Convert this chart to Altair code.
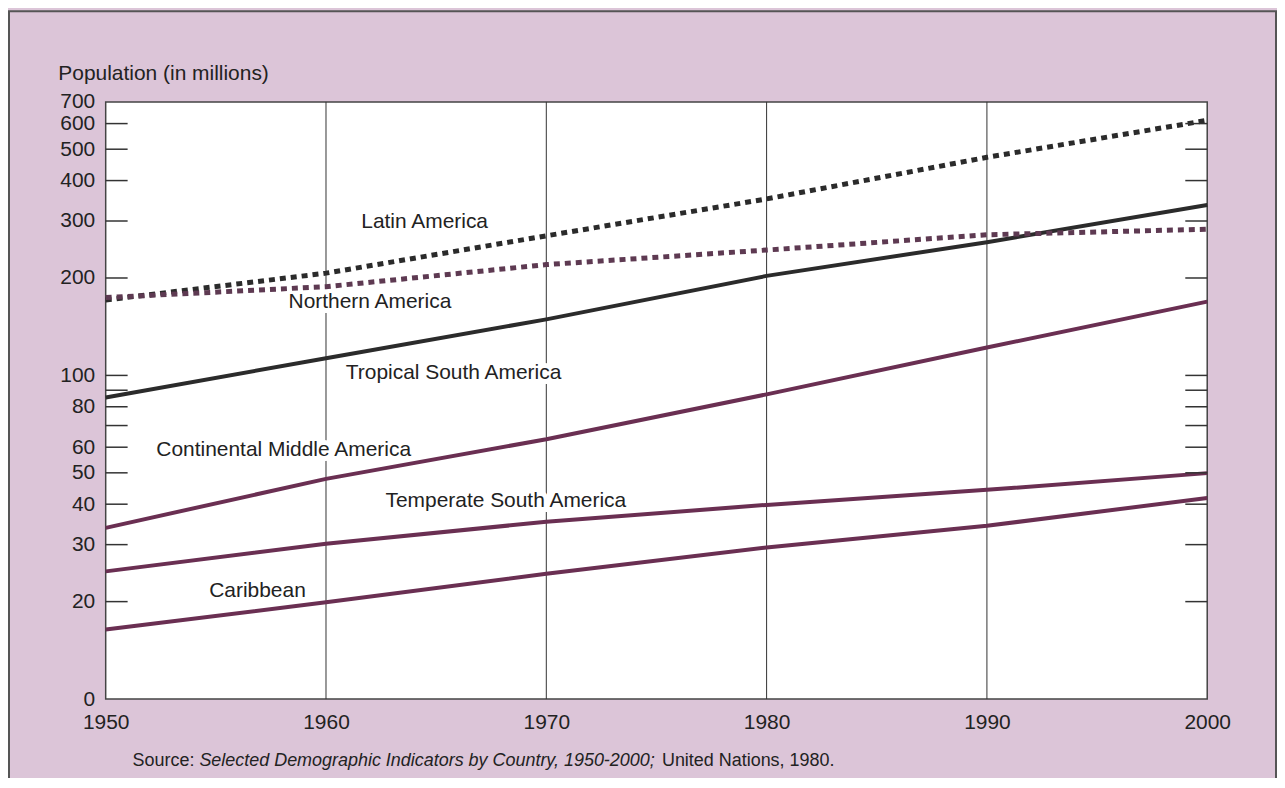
import altair as alt
import pandas as pd

# ---- data ----
years = [1950, 1960, 1970, 1980, 1990, 2000]
latin_america = [171, 207, 270, 351, 472, 614]
northern_america = [174, 188, 220, 244, 272, 283]
tropical_south_america = [85.5, 113, 149, 203, 258, 336]
continental_middle_america = [33.8, 47.9, 63.5, 87.4, 122, 169]
temperate_south_america = [24.8, 30.2, 35.3, 39.8, 44.3, 49.9]
caribbean = [16.4, 19.9, 24.4, 29.4, 34.3, 41.8]

series_names = ["Latin America", "Northern America", "Tropical South America",
                "Continental Middle America", "Temperate South America", "Caribbean"]
series_values = [latin_america, northern_america, tropical_south_america,
                 continental_middle_america, temperate_south_america, caribbean]
series_dotted = [True, True, False, False, False, False]
series_colors = ["#2b2b2b", "#5e3a52", "#2b2b2b", "#6a2f52", "#6a2f52", "#6a2f52"]

# label anchors (year, value) for the in-chart series names
label_years = [1961.6, 1958.3, 1960.9, 1952.3, 1962.7, 1954.7]
label_values = [298, 168, 101.4, 58.8, 40.9, 21.6]

y_label_values = [10, 20, 30, 40, 50, 60, 80, 100, 200, 300, 400, 500, 600, 700]
inner_tick_values = [20, 30, 40, 50, 60, 70, 80, 90, 100, 200, 300, 400, 500, 600]
x_tick_years = [1950, 1960, 1970, 1980, 1990, 2000]
grid_years = [1960, 1970, 1980, 1990]

source_parts = ["Source:", "Selected Demographic Indicators by Country, 1950-2000;",
                "United Nations, 1980."]

FONT = "Liberation Sans, Arial, Helvetica, sans-serif"
FS = 21
W, H = 1105, 599

rows = []
for name, vals, dotted in zip(series_names, series_values, series_dotted):
    for yr, v in zip(years, vals):
        rows.append({"series": name, "year": yr, "value": v, "dotted": dotted})
df = pd.DataFrame(rows)

labels_df = pd.DataFrame({"series": series_names, "year": label_years, "value": label_values})
ticks_df = pd.DataFrame({"value": inner_tick_values})
grid_df = pd.DataFrame({"year": grid_years})
one = pd.DataFrame({"k": [0]})

x_scale = alt.Scale(domain=[1950, 2000], nice=False, zero=False)
y_scale = alt.Scale(type="log", domain=[10, 700], nice=False)
color_scale = alt.Scale(domain=series_names, range=series_colors)

x_axis = alt.Axis(values=x_tick_years, format="d", title=None, grid=False, ticks=False,
                  domain=False, labelPadding=13, labelFontSize=FS, labelFont=FONT,
                  labelColor="#222", labelFlush=False, labelOverlap=False)
y_axis = alt.Axis(values=y_label_values, format="d",
                  labelExpr="datum.value == 10 ? '0' : datum.label",
                  ticks=False, domain=False, grid=False,
                  title="Population (in millions)", titleAngle=0, titleAlign="left",
                  titleBaseline="middle", titleX=-48, titleY=-28, titleFontWeight="normal",
                  titleFontSize=FS, titleFont=FONT, titleColor="#222",
                  labelFontSize=FS, labelFont=FONT, labelColor="#222", labelPadding=11,
                  labelOverlap=False, labelFlush=False)

X = alt.X("year:Q", scale=x_scale, axis=x_axis)
Y = alt.Y("value:Q", scale=y_scale, axis=y_axis)

base = alt.Chart(df)

solid = base.transform_filter("!datum.dotted").mark_line(strokeWidth=4).encode(
    x=X, y=Y,
    color=alt.Color("series:N", scale=color_scale, legend=None),
    detail="series:N",
)
dotted = base.transform_filter("datum.dotted").mark_line(strokeWidth=5, strokeDash=[6, 5]).encode(
    x=X, y=Y,
    color=alt.Color("series:N", scale=color_scale, legend=None),
    detail="series:N",
)

grid = alt.Chart(grid_df).mark_rule(color="#333", strokeWidth=1).encode(x=X)

left_ticks = alt.Chart(ticks_df).mark_rule(color="#333", strokeWidth=1.5).encode(
    y=Y, x=alt.value(0), x2=alt.value(22)
)
right_ticks = alt.Chart(ticks_df).mark_rule(color="#333", strokeWidth=1.5).encode(
    y=Y, x=alt.value(W - 22), x2=alt.value(W)
)

# white halo behind the series names (breaks the grid lines like the original)
label_halo = alt.Chart(labels_df).mark_text(align="left", baseline="middle", fontSize=FS,
                                            font=FONT, color="white", stroke="white",
                                            strokeWidth=10).encode(
    x=X, y=Y, text="series:N",
)
labels = alt.Chart(labels_df).mark_text(align="left", baseline="middle", fontSize=FS,
                                        font=FONT, color="#222").encode(
    x=X, y=Y, text="series:N",
)

src_y = 661
SRC_SIZE = 18
src1 = alt.Chart(one).mark_text(align="left", baseline="middle", fontSize=SRC_SIZE, font=FONT,
                                color="#222", text=source_parts[0]).encode(
    x=alt.value(27), y=alt.value(src_y))
src2 = alt.Chart(one).mark_text(align="left", baseline="middle", fontSize=SRC_SIZE, font=FONT,
                                fontStyle="italic", color="#222", text=source_parts[1]).encode(
    x=alt.value(94), y=alt.value(src_y))
src3 = alt.Chart(one).mark_text(align="left", baseline="middle", fontSize=SRC_SIZE, font=FONT,
                                color="#222", text=source_parts[2]).encode(
    x=alt.value(558), y=alt.value(src_y))

frame = alt.Chart(one).mark_rect(fillOpacity=0, stroke="#555", strokeWidth=2).encode(
    x=alt.value(-97), x2=alt.value(1174), y=alt.value(-91), y2=alt.value(700)
)

chart = alt.layer(
    frame, grid, label_halo, solid, dotted, left_ticks, right_ticks, labels, src1, src2, src3
).properties(
    width=W, height=H,
    autosize=alt.AutoSizeParams(type="none"),
    padding={"left": 98, "top": 93, "right": 70, "bottom": 78},
).configure(background="#dcc5d8").configure_view(
    fill="white", stroke="#444", strokeWidth=1.5
)

chart.save("out.html", embed_options={"renderer": "svg", "actions": False})
